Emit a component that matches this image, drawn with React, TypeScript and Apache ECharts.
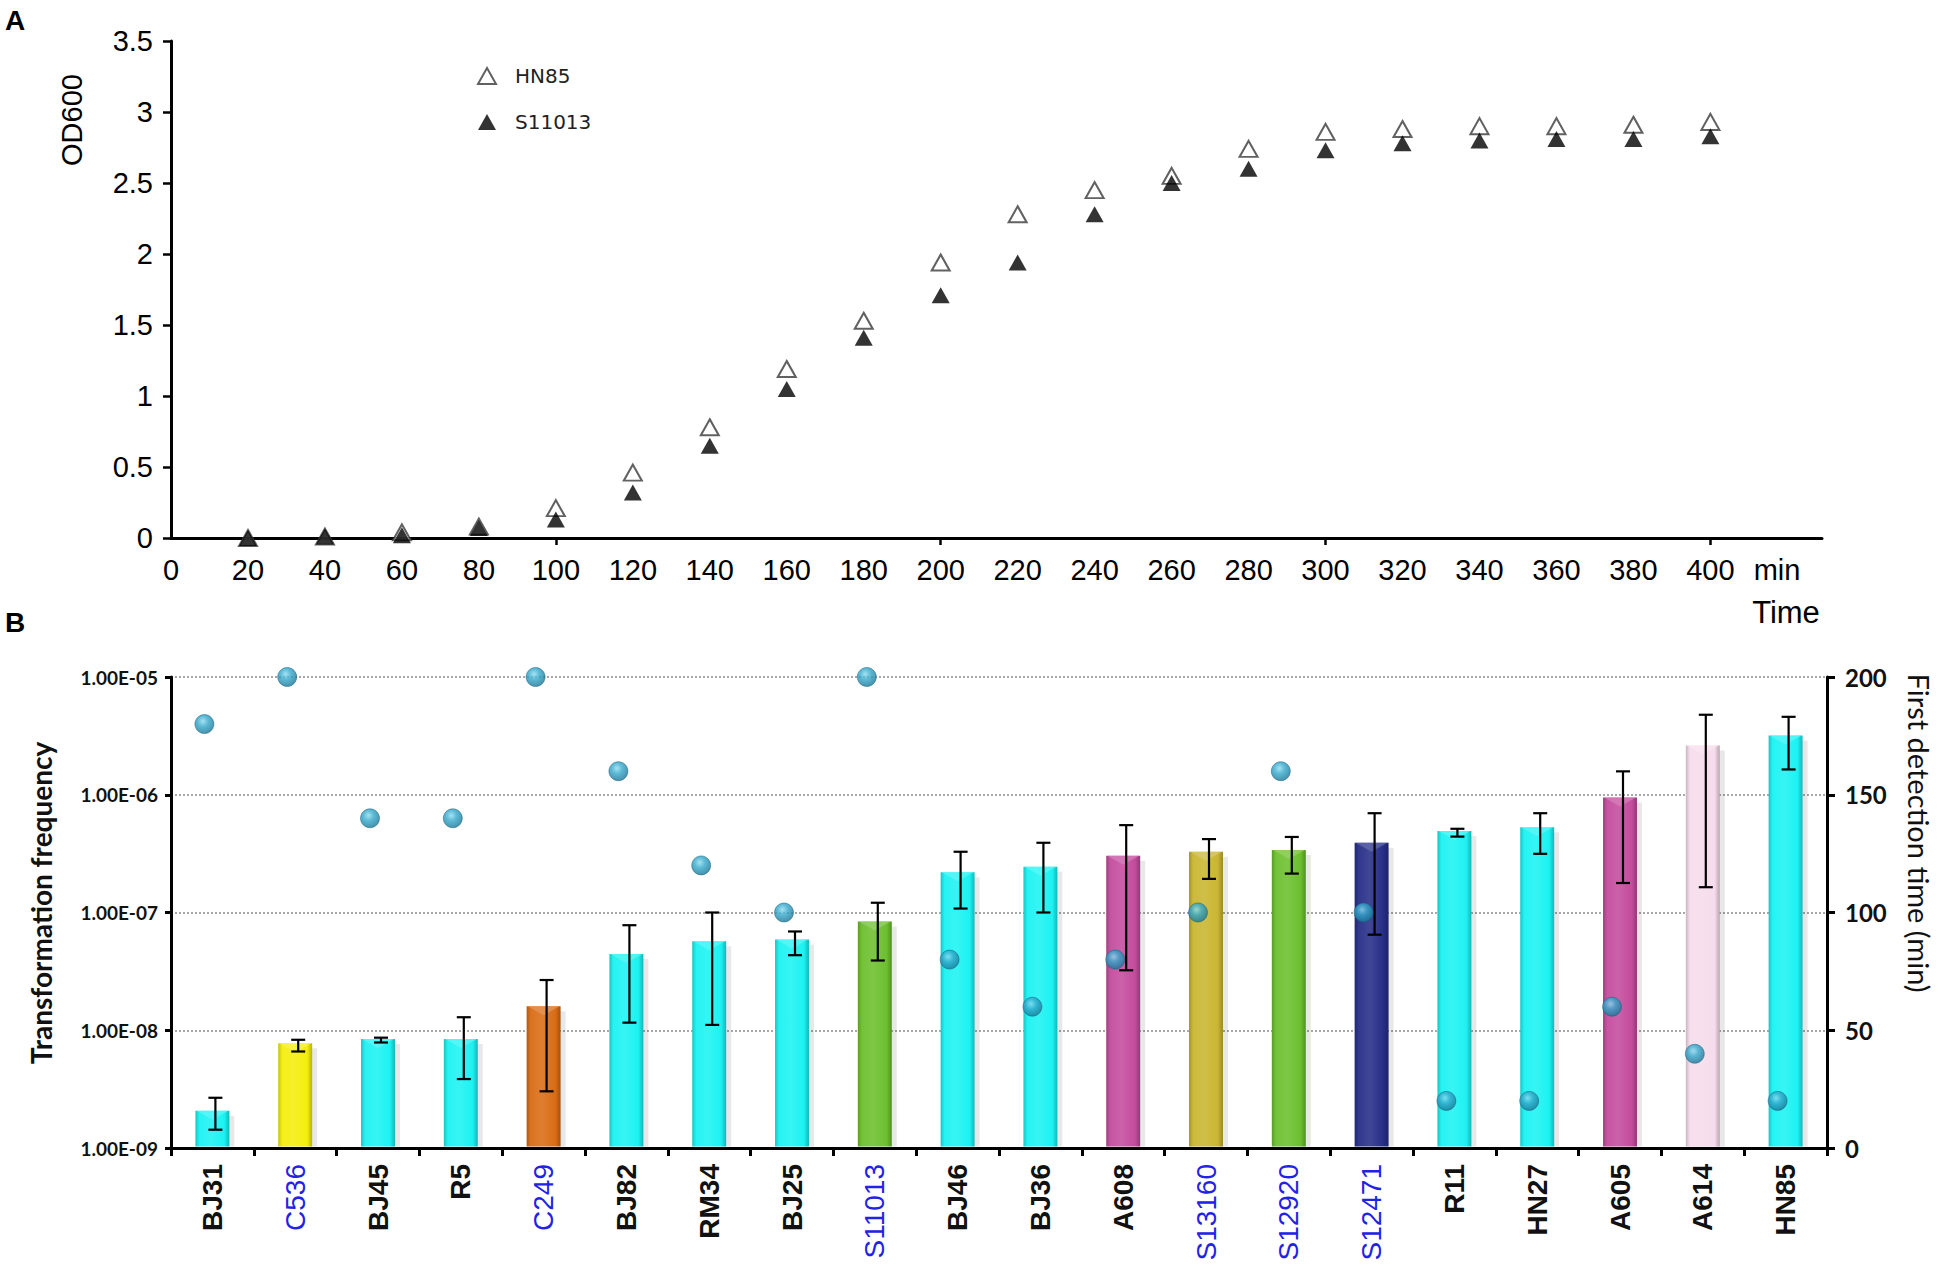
import React, { useEffect, useRef } from "react";
import * as echarts from "echarts";

// ---------- Panel A: growth curves ----------
const timeMin = [20, 40, 60, 80, 100, 120, 140, 160, 180, 200, 220, 240, 260, 280, 300, 320, 340, 360, 380, 400];
const hn85OD = [0.0, 0.01, 0.04, 0.08, 0.21, 0.46, 0.78, 1.19, 1.53, 1.94, 2.28, 2.45, 2.55, 2.74, 2.86, 2.88, 2.9, 2.9, 2.91, 2.93];
const s11013OD = [0.0, 0.01, 0.02, 0.07, 0.13, 0.32, 0.65, 1.05, 1.41, 1.71, 1.94, 2.28, 2.5, 2.6, 2.73, 2.78, 2.8, 2.81, 2.81, 2.83];
const timeLabelValues = [0, 20, 40, 60, 80, 100, 120, 140, 160, 180, 200, 220, 240, 260, 280, 300, 320, 340, 360, 380, 400];
const timeTickValues = [100, 200, 300, 400];

// ---------- Panel B: transformation frequency ----------
const strains = ["BJ31", "C536", "BJ45", "R5", "C249", "BJ82", "RM34", "BJ25", "S11013", "BJ46", "BJ36", "A608", "S13160", "S12920", "S12471", "R11", "HN27", "A605", "A614", "HN85"];
const transFreq = [2.07e-9, 7.74e-9, 8.43e-9, 8.43e-9, 1.6e-8, 4.45e-8, 5.7e-8, 5.9e-8, 8.4e-8, 2.2e-7, 2.45e-7, 3.03e-7, 3.28e-7, 3.39e-7, 3.91e-7, 4.93e-7, 5.3e-7, 9.46e-7, 2.62e-6, 3.18e-6];
const freqLow = [1.43e-9, 6.6e-9, 7.87e-9, 3.85e-9, 3.03e-9, 1.16e-8, 1.11e-8, 4.34e-8, 3.91e-8, 1.08e-7, 1.0e-7, 3.23e-8, 1.93e-7, 2.14e-7, 6.48e-8, 4.41e-7, 3.15e-7, 1.78e-7, 1.64e-7, 1.64e-6];
const freqHigh = [2.67e-9, 8.3e-9, 8.65e-9, 1.29e-8, 2.67e-8, 7.8e-8, 1.0e-7, 6.9e-8, 1.21e-7, 3.28e-7, 3.91e-7, 5.52e-7, 4.2e-7, 4.38e-7, 6.97e-7, 5.14e-7, 6.97e-7, 1.58e-6, 4.78e-6, 4.59e-6];
const firstDetection = [180, 200, 140, 140, 200, 160, 120, 100, 200, 80, 60, 80, 100, 160, 100, 20, 20, 60, 40, 20];
const blueStrains = ["C536", "C249", "S11013", "S13160", "S12920", "S12471"];
const strainColors = [
  "#1CF2F2", "#F4EE0C", "#1CF2F2", "#1CF2F2", "#D96C14",
  "#1CF2F2", "#1CF2F2", "#1CF2F2", "#6CBF2E", "#1CF2F2",
  "#1CF2F2", "#C44B9D", "#C9B630", "#6CBF2E", "#262E88",
  "#1CF2F2", "#1CF2F2", "#C44B9D", "#F6DCEC", "#1CF2F2",
];

const FREQ_MIN = 1e-9;
const FREQ_MAX = 1e-5;

function shade(hex: string, f: number): string {
  const n = parseInt(hex.slice(1), 16);
  let r = (n >> 16) & 255, g = (n >> 8) & 255, b = n & 255;
  const t = f < 0 ? 0 : 255;
  const p = Math.abs(f);
  r = Math.round((t - r) * p + r);
  g = Math.round((t - g) * p + g);
  b = Math.round((t - b) * p + b);
  return `rgb(${r},${g},${b})`;
}

const ARIAL = '"Liberation Sans", Arial, sans-serif';
const CALIBRI = 'Lato, "Open Sans", sans-serif';

export default function App() {
  const ref = useRef<HTMLDivElement>(null);

  useEffect(() => {
    document.body.style.margin = "0";
    if (!ref.current) return;
    const chart = echarts.init(ref.current, null, { renderer: "svg" });

    const center = { align: "center", verticalAlign: "middle", textAlign: "center", textVerticalAlign: "middle" };

    const option: any = {
      animation: false,
      backgroundColor: "#ffffff",
      grid: [
        { left: 171, right: 128, top: 41, bottom: 744, outerBoundsMode: "none", containLabel: false },
        { left: 171, right: 123, top: 677, bottom: 134, outerBoundsMode: "none", containLabel: false },
      ],
      legend: {
        data: ["HN85", "S11013"],
        orient: "vertical",
        left: 472,
        top: 61,
        itemWidth: 18,
        itemHeight: 16,
        itemGap: 26,
        textStyle: { fontFamily: '"DejaVu Sans", Verdana, sans-serif', fontSize: 20, color: "#222", padding: [0, 0, 0, 14] },
      },
      xAxis: [
        {
          type: "value",
          gridIndex: 0,
          min: 0,
          max: 429,
          axisLine: { show: true, lineStyle: { color: "#000", width: 3 } },
          axisTick: { show: true, customValues: timeTickValues, length: 7, lineStyle: { color: "#000", width: 2.5 } },
          axisLabel: { customValues: timeLabelValues, margin: 17, fontFamily: ARIAL, fontSize: 29, color: "#000" },
          splitLine: { show: false },
        },
        {
          type: "category",
          gridIndex: 1,
          data: strains,
          boundaryGap: true,
          axisLine: { show: true, lineStyle: { color: "#000", width: 3 } },
          axisTick: { show: true, length: 8, lineStyle: { color: "#000", width: 3 } },
          axisLabel: {
            interval: 0,
            rotate: 90,
            margin: 16,
            formatter: (v: string) => (blueStrains.includes(v) ? `{u|${v}}` : `{k|${v}}`),
            rich: {
              k: { fontFamily: ARIAL, fontSize: 28, fontWeight: "bold", color: "#111" },
              u: { fontFamily: ARIAL, fontSize: 28, fontWeight: "normal", color: "#2222E6" },
            },
          },
          splitLine: { show: false },
        },
      ],
      yAxis: [
        {
          type: "value",
          gridIndex: 0,
          min: 0,
          max: 3.5,
          interval: 0.5,
          axisLine: { show: true, lineStyle: { color: "#000", width: 3 } },
          axisTick: { show: true, length: 8, lineStyle: { color: "#000", width: 2.5 } },
          axisLabel: { margin: 18, fontFamily: ARIAL, fontSize: 29, color: "#000", formatter: (v: number) => String(v) },
          splitLine: { show: false },
        },
        {
          type: "log",
          logBase: 10,
          gridIndex: 1,
          min: FREQ_MIN,
          max: FREQ_MAX,
          splitNumber: 4,
          axisLine: { show: true, lineStyle: { color: "#000", width: 3 } },
          axisTick: { show: true, length: 6, lineStyle: { color: "#000", width: 3 } },
          axisLabel: {
            margin: 13,
            fontFamily: CALIBRI,
            fontSize: 19,
            fontWeight: "bold",
            color: "#111",
            formatter: (v: number) => {
              const e = Math.round(Math.log10(v));
              return "1.00E-" + String(-e).padStart(2, "0");
            },
          },
          splitLine: { show: true, lineStyle: { color: "#8a8a8a", width: 1.5, type: [2, 2] } },
        },
        {
          type: "value",
          gridIndex: 1,
          position: "right",
          min: 0,
          max: 200,
          interval: 50,
          axisLine: { show: true, lineStyle: { color: "#000", width: 3 } },
          axisTick: { show: true, length: 8, lineStyle: { color: "#000", width: 3 } },
          axisLabel: { margin: 18, fontFamily: CALIBRI, fontSize: 24, fontWeight: "bold", color: "#111" },
          splitLine: { show: false },
        },
      ],
      series: [
        {
          name: "HN85",
          type: "scatter",
          xAxisIndex: 0,
          yAxisIndex: 0,
          symbol: "triangle",
          symbolSize: [18, 16],
          itemStyle: { color: "#ffffff", borderColor: "#3a3a3a", borderWidth: 2 },
          data: timeMin.map((t, i) => [t, hn85OD[i]]),
          z: 3,
        },
        {
          name: "S11013",
          type: "scatter",
          xAxisIndex: 0,
          yAxisIndex: 0,
          symbol: "triangle",
          symbolSize: [18, 16],
          itemStyle: { color: "#000000" },
          data: timeMin.map((t, i) => [t, s11013OD[i]]),
          z: 4,
        },
        {
          name: "Transformation frequency",
          type: "custom",
          xAxisIndex: 1,
          yAxisIndex: 1,
          encode: { x: 0, y: 1 },
          data: strains.map((s, i) => [i, transFreq[i]]),
          z: 2,
          renderItem: (params: any, api: any) => {
            const i = api.value(0);
            const v = api.value(1);
            const top = api.coord([i, v]);
            const base = api.coord([i, FREQ_MIN]);
            const band = api.size([1, 1])[0];
            const bw = band * 0.41;
            const x = top[0] - bw / 2;
            const y = top[1];
            const h = base[1] - 1.5 - y;
            const c = strainColors[i];
            return {
              type: "group",
              children: [
                { type: "rect", shape: { x: x + 2, y: y + 5, width: bw + 3, height: h - 5 }, style: { fill: "rgba(0,0,0,0.09)" } },
                {
                  type: "rect",
                  shape: { x, y, width: bw, height: h },
                  style: {
                    fill: {
                      type: "linear", x: 0, y: 0, x2: 1, y2: 0,
                      colorStops: [
                        { offset: 0, color: shade(c, -0.18) },
                        { offset: 0.12, color: shade(c, 0.05) },
                        { offset: 0.45, color: shade(c, 0.12) },
                        { offset: 0.85, color: c },
                        { offset: 1, color: shade(c, -0.25) },
                      ],
                    },
                  },
                },
                {
                  type: "polygon",
                  shape: { points: [[x + 1, y], [x + bw - 1, y], [x + bw / 2, y + 9]] },
                  style: { fill: shade(c, 0.3), opacity: 0.7 },
                },
              ],
            };
          },
        },
        {
          name: "Error",
          type: "custom",
          xAxisIndex: 1,
          yAxisIndex: 1,
          encode: { x: 0, y: [1, 2] },
          data: strains.map((s, i) => [i, freqLow[i], freqHigh[i]]),
          z: 3,
          renderItem: (params: any, api: any) => {
            const i = api.value(0);
            const lo = api.coord([i, api.value(1)]);
            const hi = api.coord([i, api.value(2)]);
            const x = lo[0] + 3;
            const cap = 7;
            const st = { stroke: "#000", lineWidth: 2.2 };
            return {
              type: "group",
              children: [
                { type: "line", shape: { x1: x, y1: lo[1], x2: x, y2: hi[1] }, style: st },
                { type: "line", shape: { x1: x - cap, y1: lo[1], x2: x + cap, y2: lo[1] }, style: st },
                { type: "line", shape: { x1: x - cap, y1: hi[1], x2: x + cap, y2: hi[1] }, style: st },
              ],
            };
          },
        },
        {
          name: "First detection time",
          type: "scatter",
          xAxisIndex: 1,
          yAxisIndex: 2,
          symbol: "circle",
          symbolSize: 19,
          symbolOffset: [-8, 0],
          z: 5,
          itemStyle: {
            borderColor: "rgba(20,90,120,0.6)",
            borderWidth: 1,
            color: {
              type: "radial", x: 0.42, y: 0.35, r: 0.7,
              colorStops: [
                { offset: 0, color: "#8FDBEE" },
                { offset: 0.4, color: "#33A8CC" },
                { offset: 1, color: "#15708F" },
              ],
            },
          },
          data: firstDetection,
        },
      ],
      graphic: [
        { type: "text", x: 15, y: 20, style: { text: "A", font: `bold 28px ${ARIAL}`, fill: "#000", ...center } },
        { type: "text", x: 15, y: 622, style: { text: "B", font: `bold 28px ${ARIAL}`, fill: "#000", ...center } },
        { type: "text", x: 72, y: 120, rotation: Math.PI / 2, style: { text: "OD600", font: `29px ${ARIAL}`, fill: "#000", ...center } },
        { type: "text", x: 1777, y: 570, style: { text: "min", font: `29px ${ARIAL}`, fill: "#000", ...center } },
        { type: "text", x: 1786, y: 612, style: { text: "Time", font: `31px ${ARIAL}`, fill: "#000", ...center } },
        { type: "text", x: 41, y: 903, rotation: Math.PI / 2, style: { text: "Transformation frequency", font: `bold 28px ${CALIBRI}`, fill: "#111", ...center } },
        { type: "text", x: 1919, y: 833, rotation: -Math.PI / 2, style: { text: "First detection time (min)", font: `29px ${CALIBRI}`, fill: "#111", ...center } },
      ],
    };

    chart.setOption(option);
    return () => chart.dispose();
  }, []);

  return <div ref={ref} style={{ width: 1950, height: 1282 }} />;
}
